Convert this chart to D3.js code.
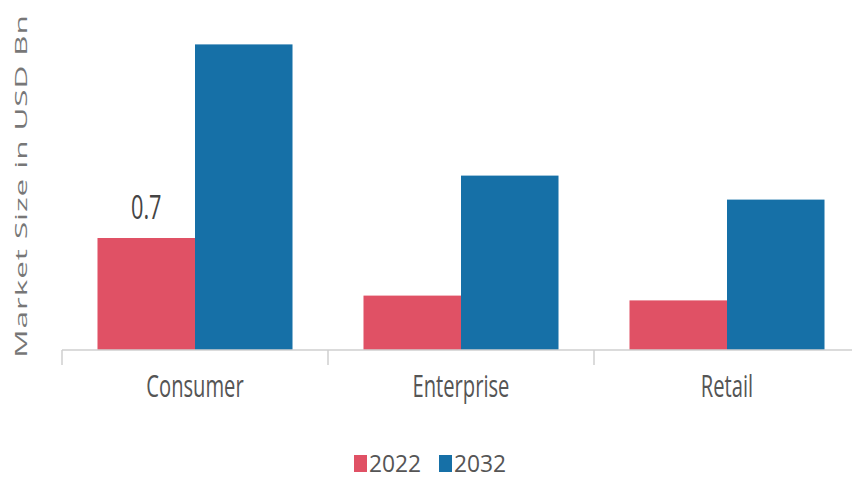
<!DOCTYPE html>
<html>
<head>
<meta charset="utf-8">
<script src="https://cdn.jsdelivr.net/npm/d3@7"></script>
<style>
  body { margin: 0; background: #fff; }
</style>
</head>
<body>
<div id="chart"></div>
<script>
// data
var categories = ["Consumer", "Enterprise", "Retail"];
var years = ["2022", "2032"];
var values2022 = [0.7, 0.34, 0.31];
var values2032 = [1.91, 1.09, 0.94];
var colors = ["#e05165", "#1670a7"];

var svgWidth = 852;
var svgHeight = 478;
var margin = { top: 10, right: -8, bottom: 128, left: 62 };
var width = svgWidth - margin.left - margin.right;
var height = svgHeight - margin.top - margin.bottom;
var font = "'Open Sans', sans-serif";

var svg = d3.select("#chart").append("svg")
  .attr("width", svgWidth)
  .attr("height", svgHeight);

var g = svg.append("g")
  .attr("transform", `translate(${margin.left}, ${margin.top})`);

var x0 = d3.scaleBand().domain(categories).range([0, width]).padding(0);
var x1 = d3.scaleBand().domain(years).range([0, x0.bandwidth()])
  .paddingInner(0).paddingOuter(0.364);
var y = d3.scaleLinear().domain([0, 2.125]).range([height, 0]);

// squeeze text horizontally (the source picture is stretched vertically)
function squeeze(sel, ratio) {
  sel.each(function () {
    var w = this.getComputedTextLength();
    d3.select(this)
      .attr("textLength", w * ratio)
      .attr("lengthAdjust", "spacingAndGlyphs");
  });
}

var rows = categories.map(function (c, i) {
  return { cat: c, vals: [values2022[i], values2032[i]] };
});

// bars
var groups = g.selectAll(".cat").data(rows).enter().append("g")
  .attr("transform", (d) => `translate(${x0(d.cat)},0)`);

groups.selectAll("rect")
  .data((d) => d.vals.map((v, j) => ({ year: years[j], v: v, j: j })))
  .enter().append("rect")
  .attr("x", (d) => x1(d.year))
  .attr("width", x1.bandwidth())
  .attr("y", (d) => y(d.v))
  .attr("height", (d) => height - y(d.v))
  .attr("fill", (d) => colors[d.j]);

// value label on first bar
g.append("text")
  .attr("x", x0(categories[0]) + x1(years[0]) + x1.bandwidth() / 2)
  .attr("y", y(values2022[0]) - 19)
  .attr("text-anchor", "middle")
  .attr("font-family", font)
  .attr("font-size", 32)
  .attr("fill", "#444")
  .text(values2022[0])
  .call(squeeze, 0.68);

// x axis
var xAxis = g.append("g").attr("transform", `translate(0,${height})`);
xAxis.append("line")
  .attr("x1", 0).attr("x2", width)
  .attr("stroke", "#cfcfcf").attr("stroke-width", 1.5);
xAxis.selectAll(".tick").data(categories.concat(["end"])).enter().append("line")
  .attr("x1", (d, i) => i * x0.step()).attr("x2", (d, i) => i * x0.step())
  .attr("y1", 0).attr("y2", 15)
  .attr("stroke", "#cfcfcf").attr("stroke-width", 1.5);
xAxis.selectAll(".lbl").data(categories).enter().append("text")
  .attr("x", (d) => x0(d) + x0.bandwidth() / 2)
  .attr("y", 47)
  .attr("text-anchor", "middle")
  .attr("font-family", font)
  .attr("font-size", 31)
  .attr("fill", "#555")
  .text((d) => d)
  .call(squeeze, 0.65);

// y axis label
svg.append("text")
  .attr("transform", "translate(27,186) rotate(-90) scale(1.85,1)")
  .attr("text-anchor", "middle")
  .attr("font-family", font)
  .attr("font-size", 17)
  .attr("letter-spacing", 0.5)
  .attr("fill", "#777")
  .text("Market Size in USD Bn");

// legend
var legend = svg.append("g").attr("transform", "translate(354,455)");
var item = legend.selectAll("g").data(years).enter().append("g")
  .attr("transform", (d, i) => `translate(${i * 85},0)`);
item.append("rect")
  .attr("width", 13).attr("height", 17)
  .attr("fill", (d, i) => colors[i]);
item.append("text")
  .attr("x", 15).attr("y", 16.5)
  .attr("font-family", font)
  .attr("font-size", 24)
  .attr("fill", "#555")
  .text((d) => d)
  .call(squeeze, 0.95);
</script>
</body>
</html>
